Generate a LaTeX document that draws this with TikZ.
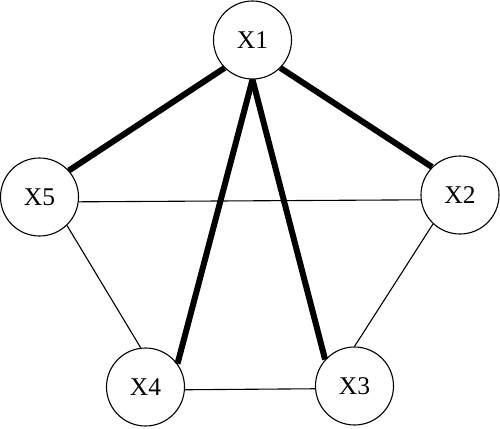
\documentclass[tikz,border=0pt]{standalone}
\usepackage{fontspec}
\setmainfont{Liberation Serif}
\begin{document}
\begin{tikzpicture}[x=1pt,y=-1pt,
  vnode/.style={circle,draw,line width=1.1pt,minimum size=78pt,inner sep=0pt,font=\fontsize{25.5}{30}\selectfont},
  heavy/.style={line width=6pt},
  light/.style={line width=1.1pt}]
\useasboundingbox (0,0) rectangle (500,428);
\node[vnode] (X1) at (252.5,40) {X1};
\node[vnode] (X5) at (39.5,197) {X5};
\node[vnode] (X2) at (460,195) {X2};
\node[vnode] (X4) at (145.5,387) {X4};
\node[vnode] (X3) at (354.5,386) {X3};
\draw[heavy] (X1.225) -- (X5.42);
\draw[heavy] (X1.315) -- (X2.135);
\draw[heavy] (X1.south) -- (X4.36);
\draw[heavy] (X1.south) -- (X3.138);
\draw[light] (X5.-7) -- (X2.187);
\draw[light] (X5.-46) -- (X4.97);
\draw[light] (X4.-4) -- (X3.184);
\draw[light] (X3.90) -- (X2.227);
\end{tikzpicture}
\end{document}
